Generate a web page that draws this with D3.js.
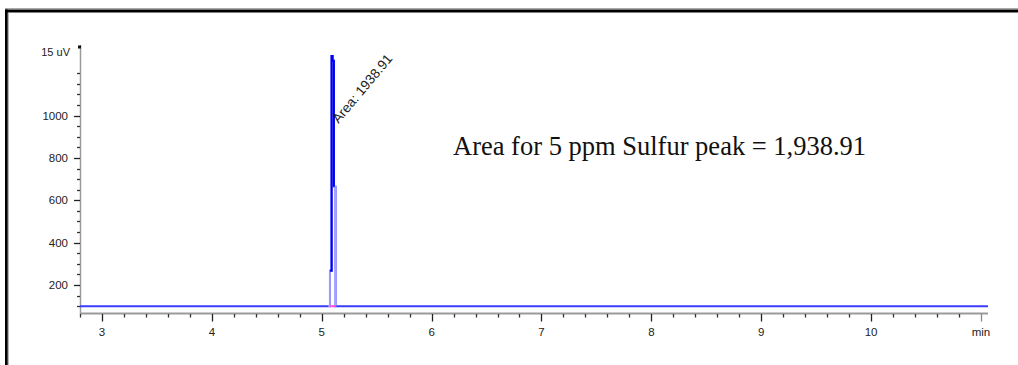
<!DOCTYPE html>
<html>
<head>
<meta charset="utf-8">
<script src="https://cdn.jsdelivr.net/npm/d3@7"></script>
<style>
  html, body { margin: 0; padding: 0; background: #fff; }
  svg { display: block; }
</style>
</head>
<body>
<div id="chart"></div>
<script>
// chromatogram signal (time in min, response in uV)
const sigTime  = [2.80, 5.060, 5.075, 5.090, 5.099, 5.111, 5.126, 11.064];
const sigValue = [100,  100,   267,   1281,  1259,  664,   100,   100];

const xMajorTicks = [3, 4, 5, 6, 7, 8, 9, 10, 11];
const xTickLabels = ["3", "4", "5", "6", "7", "8", "9", "10", "min"];
const yMajorTicks = [200, 400, 600, 800, 1000];
const yTopLabel = "15 uV";

const peakLabel = "Area: 1938.91";
const noteText = "Area for 5 ppm Sulfur peak = 1,938.91";

const width = 1018, height = 365;

const svg = d3.select("#chart").append("svg")
  .attr("width", width)
  .attr("height", height);

// frame (top + left border)
svg.append("rect").attr("x", 5).attr("y", 8).attr("width", width - 5).attr("height", 1.2).attr("fill", "#aaa");
svg.append("rect").attr("x", 5).attr("y", 9.5).attr("width", width - 5).attr("height", 3).attr("fill", "#000");
svg.append("rect").attr("x", 5).attr("y", 9.5).attr("width", 2.8).attr("height", height).attr("fill", "#000");
svg.append("rect").attr("x", 7.8).attr("y", 12.5).attr("width", 0.9).attr("height", height).attr("fill", "#999");

const x = d3.scaleLinear().domain([2.8, 11.064]).range([80, 988]);
const y = d3.scaleLinear().domain([68, 1333]).range([313, 45]);

const axisY = 313;
const axisX = 80;

// x axis
const gx = svg.append("g");
gx.append("line")
  .attr("x1", x.range()[0]).attr("x2", x.range()[1])
  .attr("y1", axisY + 0.5).attr("y2", axisY + 0.5)
  .attr("stroke", "#9a9a9a").attr("stroke-width", 2);
const xMinor = d3.range(28, 111, 2).map(d => d / 10).filter(d => !xMajorTicks.includes(d));
gx.selectAll(".xminor").data(xMinor).enter().append("line")
  .attr("x1", d => Math.round(x(d)) + 0.5).attr("x2", d => Math.round(x(d)) + 0.5)
  .attr("y1", axisY + 1).attr("y2", axisY + 4.5)
  .attr("stroke", "#333").attr("stroke-width", 1.3);
gx.selectAll(".xmajor").data(xMajorTicks).enter().append("line")
  .attr("x1", d => Math.round(x(d)) + 0.5).attr("x2", d => Math.round(x(d)) + 0.5)
  .attr("y1", axisY + 1).attr("y2", axisY + 8.5)
  .attr("stroke", (d, i) => i === xMajorTicks.length - 1 ? "#888" : "#222").attr("stroke-width", 1.3);
gx.selectAll(".xlab").data(xMajorTicks).enter().append("text")
  .attr("x", d => x(d))
  .attr("y", axisY + 23)
  .attr("text-anchor", "middle")
  .attr("font-family", "Liberation Sans, Arial, sans-serif")
  .attr("font-size", 11.5)
  .attr("fill", "#222")
  .text((d, i) => xTickLabels[i]);

// y axis
const gy = svg.append("g");
gy.append("line")
  .attr("x1", axisX + 0.5).attr("x2", axisX + 0.5)
  .attr("y1", y.range()[1]).attr("y2", axisY + 1)
  .attr("stroke", "#9a9a9a").attr("stroke-width", 1.5);
const yMinor = d3.range(100, 1201, 50).filter(d => !yMajorTicks.includes(d));
gy.selectAll(".yminor").data(yMinor).enter().append("line")
  .attr("x1", axisX - 3).attr("x2", axisX)
  .attr("y1", d => Math.round(y(d)) + 0.5).attr("y2", d => Math.round(y(d)) + 0.5)
  .attr("stroke", "#333").attr("stroke-width", 1.3);
gy.selectAll(".ymajor").data(yMajorTicks).enter().append("line")
  .attr("x1", axisX - 6).attr("x2", axisX)
  .attr("y1", d => Math.round(y(d)) + 0.5).attr("y2", d => Math.round(y(d)) + 0.5)
  .attr("stroke", "#222").attr("stroke-width", 1.3);
gy.selectAll(".ylab").data(yMajorTicks).enter().append("text")
  .attr("x", axisX - 12)
  .attr("y", d => y(d))
  .attr("dy", "0.35em")
  .attr("text-anchor", "end")
  .attr("font-family", "Liberation Sans, Arial, sans-serif")
  .attr("font-size", 11.5)
  .attr("fill", "#222")
  .text(d => d);
// top of axis: unit marker
gy.append("line")
  .attr("x1", axisX - 2).attr("x2", axisX + 1)
  .attr("y1", y.range()[1] + 2).attr("y2", y.range()[1] + 2)
  .attr("stroke", "#111").attr("stroke-width", 3);
gy.append("text")
  .attr("x", axisX - 10)
  .attr("y", y.range()[1] + 7)
  .attr("dy", "0.35em")
  .attr("text-anchor", "end")
  .attr("font-family", "Liberation Sans, Arial, sans-serif")
  .attr("font-size", 11)
  .attr("fill", "#222")
  .text(yTopLabel);

// signal trace
const pts = sigTime.map((t, i) => [t, sigValue[i]]);
const line = d3.line()
  .x(d => x(d[0]))
  .y(d => y(d[1]))
  .curve(d3.curveStepAfter);

svg.append("path")
  .attr("d", line(pts))
  .attr("fill", "none")
  .attr("stroke", "#3c3cff")
  .attr("stroke-width", 2);

// peak outline (lighter) and integration baseline
svg.append("path")
  .attr("d", line(pts.slice(1, 7)))
  .attr("fill", "none")
  .attr("stroke", "#a3a3ff")
  .attr("stroke-width", 1.8);
svg.append("line")
  .attr("x1", x(sigTime[2])).attr("x2", x(sigTime[6]))
  .attr("y1", y(sigValue[0])).attr("y2", y(sigValue[0]))
  .attr("stroke", "#ff4fd8").attr("stroke-width", 2);

// main peak body
svg.append("path")
  .attr("d", line(pts.slice(2, 6)))
  .attr("fill", "none")
  .attr("stroke", "#0000f0")
  .attr("stroke-width", 2);

// rotated peak label
const lx = x(sigTime[6]) + 3, ly = y(960);
svg.append("text")
  .attr("transform", `translate(${lx},${ly}) rotate(-50)`)
  .attr("font-family", "Liberation Sans, Arial, sans-serif")
  .attr("font-size", 13.5)
  .attr("fill", "#222")
  .text(peakLabel);

// annotation
svg.append("text")
  .attr("x", 453)
  .attr("y", 155)
  .attr("font-family", "Liberation Serif, Times New Roman, serif")
  .attr("font-size", 26.5)
  .attr("fill", "#111")
  .text(noteText);
</script>
</body>
</html>
